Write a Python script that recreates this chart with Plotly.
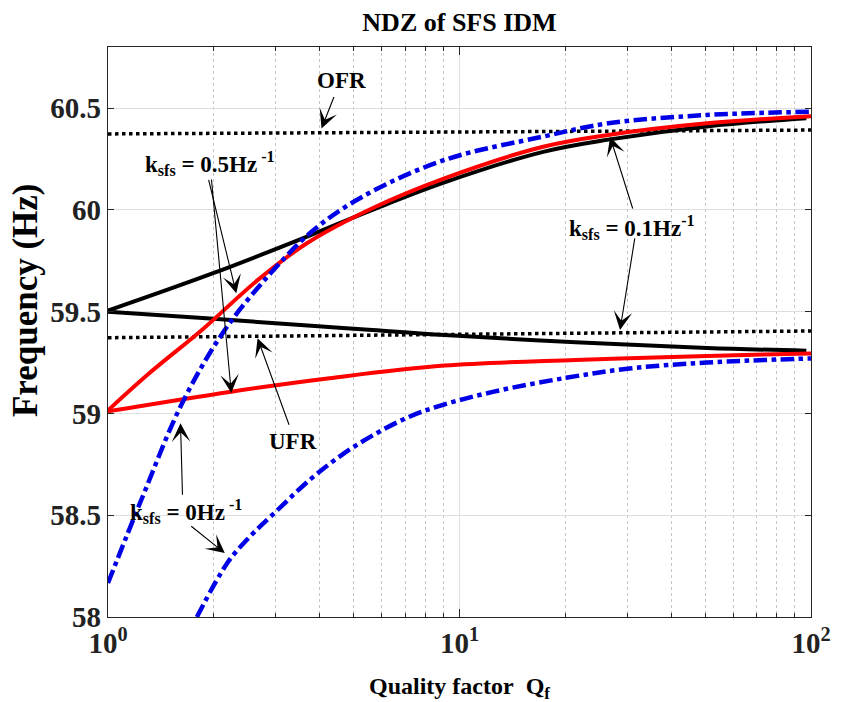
import math
import plotly.graph_objects as go

# ---- NDZ boundaries of the SFS islanding detection method ----
# Quality factor values and the matching frequency limits (Hz)
q_k01_upper = [1, 2.0, 3.7, 5.65, 9.06, 17.3, 26.5, 50.6, 97]
f_k01_upper = [59.505, 59.69, 59.87, 60.0, 60.135, 60.285, 60.345, 60.41, 60.45]
q_k01_lower = [1, 2.0, 3.7, 5.65, 9.06, 21.4, 50.6, 97]
f_k01_lower = [59.5, 59.465, 59.432, 59.41, 59.385, 59.35, 59.322, 59.308]

q_k05_upper = [1, 1.31, 1.85, 2.67, 3.68, 5.65, 9.06, 17.3, 26.5, 50.6, 100]
f_k05_upper = [59.015, 59.197, 59.41, 59.656, 59.836, 60.008, 60.155, 60.31, 60.368, 60.425, 60.46]
q_k05_lower = [1, 2.24, 4.27, 9.06, 21.4, 50.6, 100]
f_k05_lower = [59.01, 59.107, 59.173, 59.235, 59.263, 59.282, 59.295]

q_k0_upper = [1, 1.255, 1.625, 2.149, 2.9, 3.84, 5.3, 9.06, 17.3, 26.5, 50.6, 100]
f_k0_upper = [58.167, 58.592, 59.05, 59.41, 59.688, 59.90, 60.065, 60.245, 60.36, 60.425, 60.466, 60.482]
q_k0_lower = [1.79, 2.195, 2.55, 2.93, 3.757, 4.66, 5.77, 7.16, 8.88, 12.52, 20.1, 30.9, 50.6, 100]
f_k0_lower = [58.0, 58.27, 58.40, 58.50, 58.675, 58.80, 58.90, 58.982, 59.04, 59.107, 59.175, 59.222, 59.25, 59.27]

# Over/under frequency relay thresholds
q_relay = [1, 100]
f_ofr = [60.373, 60.392]
f_ufr = [59.372, 59.405]

y_ticks = [58, 58.5, 59, 59.5, 60, 60.5]
y_ticklabels = ["58", "58.5", "59", "59.5", "60", "60.5"]
x_ticks = [1, 10, 100]
x_ticklabels = ["10<sup>0</sup>", "10<sup>1</sup>", "10<sup>2</sup>"]
x_minor = [2, 3, 4, 5, 6, 7, 8, 9, 20, 30, 40, 50, 60, 70, 80, 90]

FONT = "Liberation Serif, Times New Roman, serif"
AXIS = "#262626"

fig = go.Figure()

for f in (f_ofr, f_ufr):
    fig.add_trace(go.Scatter(x=q_relay, y=f, mode="lines",
                             line=dict(color="black", width=3.5, dash="dot"),
                             showlegend=False, hoverinfo="skip"))

for q, f in ((q_k01_upper, f_k01_upper), (q_k01_lower, f_k01_lower)):
    fig.add_trace(go.Scatter(x=q, y=f, mode="lines", line_shape="spline",
                             line=dict(color="black", width=4),
                             showlegend=False))

for q, f in ((q_k05_upper, f_k05_upper), (q_k05_lower, f_k05_lower)):
    fig.add_trace(go.Scatter(x=q, y=f, mode="lines", line_shape="spline",
                             line=dict(color="#ff0000", width=4),
                             showlegend=False))

for q, f in ((q_k0_upper, f_k0_upper), (q_k0_lower, f_k0_lower)):
    fig.add_trace(go.Scatter(x=q, y=f, mode="lines", line_shape="spline",
                             line=dict(color="#0000e6", width=4.5, dash="dashdot"),
                             showlegend=False))

# Labels
ann_font = dict(family=FONT, size=23, color="black", weight="bold")
labels = [
    ("OFR", 4.61, 60.637),
    ("k<sub>sfs</sub> = 0.5Hz<sup> -1</sup>", 1.951, 60.229),
    ("k<sub>sfs</sub> = 0.1Hz<sup>-1</sup>", 30.96, 59.915),
    ("UFR", 3.36, 58.86),
    ("k<sub>sfs</sub> = 0Hz<sup> -1</sup>", 1.670, 58.517),
]
for text, q, f in labels:
    fig.add_annotation(x=math.log10(q), y=f, xref="x", yref="y", text=text,
                       showarrow=False, font=ann_font,
                       xanchor="center", yanchor="middle")

# Pointer arrows: tip (Q, f) and tail offset in pixels
arrows = [
    (4.05, 60.40, 13, -33),
    (2.317, 59.59, -28, -115),
    (2.243, 59.10, -20, -215),
    (26.83, 60.358, 23, 73),
    (28.62, 59.41, 15, -93),
    (2.664, 59.369, 32, 88),
    (1.608, 58.952, 2, 73),
    (2.149, 58.314, -35, -28),
]
for q, f, ax, ay in arrows:
    fig.add_annotation(x=math.log10(q), y=f, xref="x", yref="y", text="",
                       showarrow=True, arrowhead=3, arrowsize=2.8,
                       arrowwidth=1.1, arrowcolor="black", ax=ax, ay=ay,
                       axref="pixel", ayref="pixel", standoff=0)

# Axis titles
fig.add_annotation(x=0, y=0.556, xref="paper", yref="paper", xshift=-83,
                   text="Frequency (Hz)", textangle=-90, showarrow=False,
                   font=dict(family=FONT, size=35, color="black", weight="bold"),
                   xanchor="center", yanchor="middle")
fig.add_annotation(x=0.5, y=0, xref="paper", yref="paper", yshift=-71,
                   text="Quality factor&nbsp;&nbsp;Q<sub>f</sub>", showarrow=False,
                   font=dict(family=FONT, size=24, color="black", weight="bold"),
                   xanchor="center", yanchor="middle")

fig.update_xaxes(
    type="log", range=[0, 2],
    tickvals=x_ticks, ticktext=x_ticklabels,
    ticks="inside", ticklen=8, tickcolor=AXIS, tickwidth=1,
    showline=True, linecolor=AXIS, linewidth=1.2, mirror="ticks",
    showgrid=True, gridcolor="#dedede", gridwidth=1,
    tickfont=dict(family=FONT, size=29, color="#222222", weight="bold"),
    minor=dict(tickvals=x_minor, ticks="inside", ticklen=4, tickcolor=AXIS,
               showgrid=True, griddash="dot", gridcolor="#c4c4c4", gridwidth=1),
    zeroline=False,
)
fig.update_yaxes(
    range=[58, 60.8],
    tickvals=y_ticks, ticktext=y_ticklabels,
    ticks="inside", ticklen=6, tickcolor=AXIS, tickwidth=1,
    showline=True, linecolor=AXIS, linewidth=1.2, mirror="ticks",
    showgrid=True, gridcolor="#dedede", gridwidth=1,
    tickfont=dict(family=FONT, size=29, color="#222222", weight="bold"),
    zeroline=False,
)

fig.update_layout(
    width=843, height=702, autosize=False,
    margin=dict(l=108, r=20, t=47, b=85),
    paper_bgcolor="white", plot_bgcolor="white",
    title=dict(text="NDZ of SFS IDM", x=0.5, xanchor="center",
               xref="paper", y=1 - 22 / 702, yref="container", yanchor="middle",
               font=dict(family=FONT, size=26, color="black", weight="bold")),
    showlegend=False,
)

fig.write_html("out.html")
